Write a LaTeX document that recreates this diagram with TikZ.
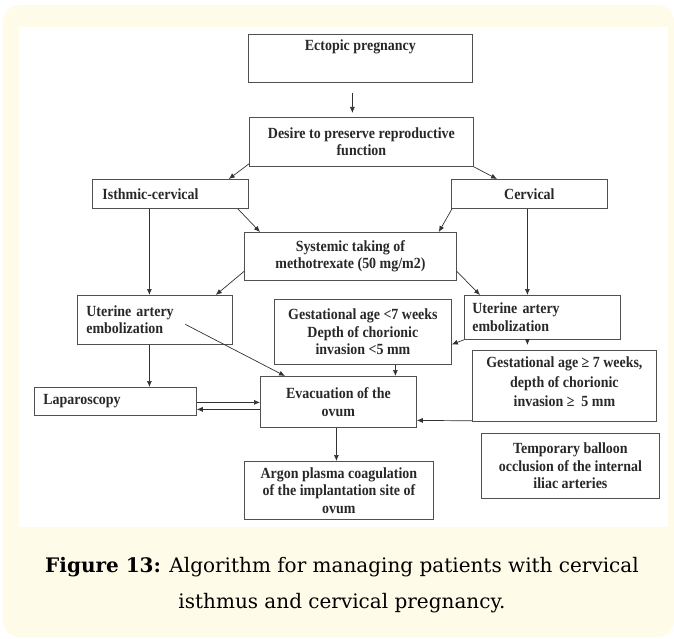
\documentclass[tikz,border=0pt]{standalone}
\usepackage{fontspec}
\setmainfont{Liberation Serif}[FakeStretch=0.9]
\newfontfamily\capfont{DejaVu Serif}
\usetikzlibrary{arrows.meta,calc}
\definecolor{cream}{RGB}{255,251,233}
\definecolor{boxgray}{RGB}{80,80,80}
\definecolor{linegray}{RGB}{50,50,50}
\definecolor{txtgray}{RGB}{40,40,40}
\begin{document}
\begin{tikzpicture}[x=1pt,y=-1pt,
  box/.style={draw=boxgray, line width=0.8pt, fill=white, inner sep=0pt, align=center,
    font=\fontsize{15.5}{17.5}\selectfont\bfseries, text=txtgray, anchor=north west},
  arr/.style={draw=linegray, line width=0.7pt, -{Latex[length=6pt,width=5pt]}},
  ln/.style={draw=linegray, line width=0.7pt}]
\useasboundingbox (0,0) rectangle (674,639);
\fill[cream, rounded corners=16pt] (3,5) rectangle (674,637);
\fill[white] (19,27) rectangle (668,527);

\node[box, minimum width=224pt, minimum height=48pt, text depth=26pt] (ecto) at (248,34) {Ectopic pregnancy};
\node[box, minimum width=224pt, minimum height=49pt] (desire) at (249,117) {Desire to preserve reproductive\\function};
\node[box, minimum width=156pt, minimum height=29pt, text width=136pt, align=left] (isth) at (92,179) {Isthmic-cervical};
\node[box, minimum width=156pt, minimum height=29pt] (cerv) at (451,179) {Cervical};
\node[box, minimum width=212pt, minimum height=48pt] (syst) at (244,232) {Systemic taking of\\methotrexate (50 mg/m2)};
\node[box, minimum width=155pt, minimum height=49pt, text width=137pt, align=left] (uterL) at (77,295) {Uterine artery\\embolization};
\node[box, minimum width=156pt, minimum height=44pt, text width=140pt, align=left] (uterR) at (464,295) {Uterine artery\\embolization};
\node[box, minimum width=177pt, minimum height=65pt] (gest7) at (274,299) {Gestational age \textless7 weeks\\Depth of chorionic\\invasion \textless5 mm};
\node[box, minimum width=184pt, minimum height=71pt, font=\fontsize{15.5}{19.5}\selectfont\bfseries, text depth=8pt] (gestge) at (472,350) {Gestational age ≥ 7 weeks,\\depth of chorionic\\invasion ≥\ \ 5 mm};
\node[box, minimum width=156pt, minimum height=51pt] (evac) at (260,376) {Evacuation of the\\ovum};
\node[box, minimum width=162pt, minimum height=28pt, text width=144pt, align=left] (lap) at (34,387) {Laparoscopy};
\node[box, minimum width=189pt, minimum height=58pt] (argon) at (244,461) {Argon plasma coagulation\\of the implantation site of\\ovum};
\node[box, minimum width=178pt, minimum height=65pt] (temp) at (481,433) {Temporary balloon\\occlusion of the internal\\iliac arteries};

\draw[arr] ([xshift=-8pt,yshift=-10pt]ecto.south) -- ([xshift=-9pt,yshift=4pt]desire.north);
\draw[arr] ([yshift=3pt]desire.south west) -- ([xshift=-20pt]isth.north east);
\draw[arr] (desire.south east) -- ([xshift=46pt]cerv.north west);
\draw[arr] ([xshift=-11pt]isth.south east) -- ([xshift=16pt]syst.north west);
\draw[arr] ([xshift=1pt]cerv.south west) -- ([xshift=-18pt]syst.north east);
\draw[arr] ([xshift=-21pt]isth.south) -- ([xshift=-5.5pt]uterL.north);
\draw[arr] ([xshift=-2pt]cerv.south) -- ([xshift=-15pt]uterR.north);
\draw[arr] ([yshift=-15pt]syst.west) -- ([xshift=-17pt]uterL.north east);
\draw[arr] ([yshift=-15pt]syst.east) -- ([xshift=16pt]uterR.north west);
\draw[arr] (uterR.south west) -- ([yshift=-12.5pt]gest7.east);
\draw[arr] ([xshift=-15pt]uterR.south) -- ([xshift=-37pt,yshift=5pt]gestge.north);
\draw[arr] ([yshift=1pt]gestge.south west) -- ([yshift=-18.5pt]evac.east);
\draw[arr] ([xshift=32.5pt]gest7.south) -- ([xshift=57pt]evac.north);
\draw[arr] ([xshift=30.5pt,yshift=-4.5pt]uterL.center) -- ([xshift=25pt]evac.north west);
\draw[arr] ([xshift=-5.5pt]uterL.south) -- ([xshift=34pt]lap.north);
\draw[arr] ([yshift=-1pt]lap.east) -- ([yshift=-0.5pt]evac.west);
\draw[arr] ([yshift=-7.5pt]evac.west) -- ([yshift=-8pt]lap.east);
\draw[arr] ([xshift=-2pt]evac.south) -- ([xshift=-2.5pt]argon.north);

\node[font=\capfont\fontsize{20}{36}\selectfont, align=center, text=black] (cap) at (342,585)
  {\textbf{Figure 13:} Algorithm for managing patients with cervical\\isthmus and cervical pregnancy.};
\end{tikzpicture}
\end{document}
